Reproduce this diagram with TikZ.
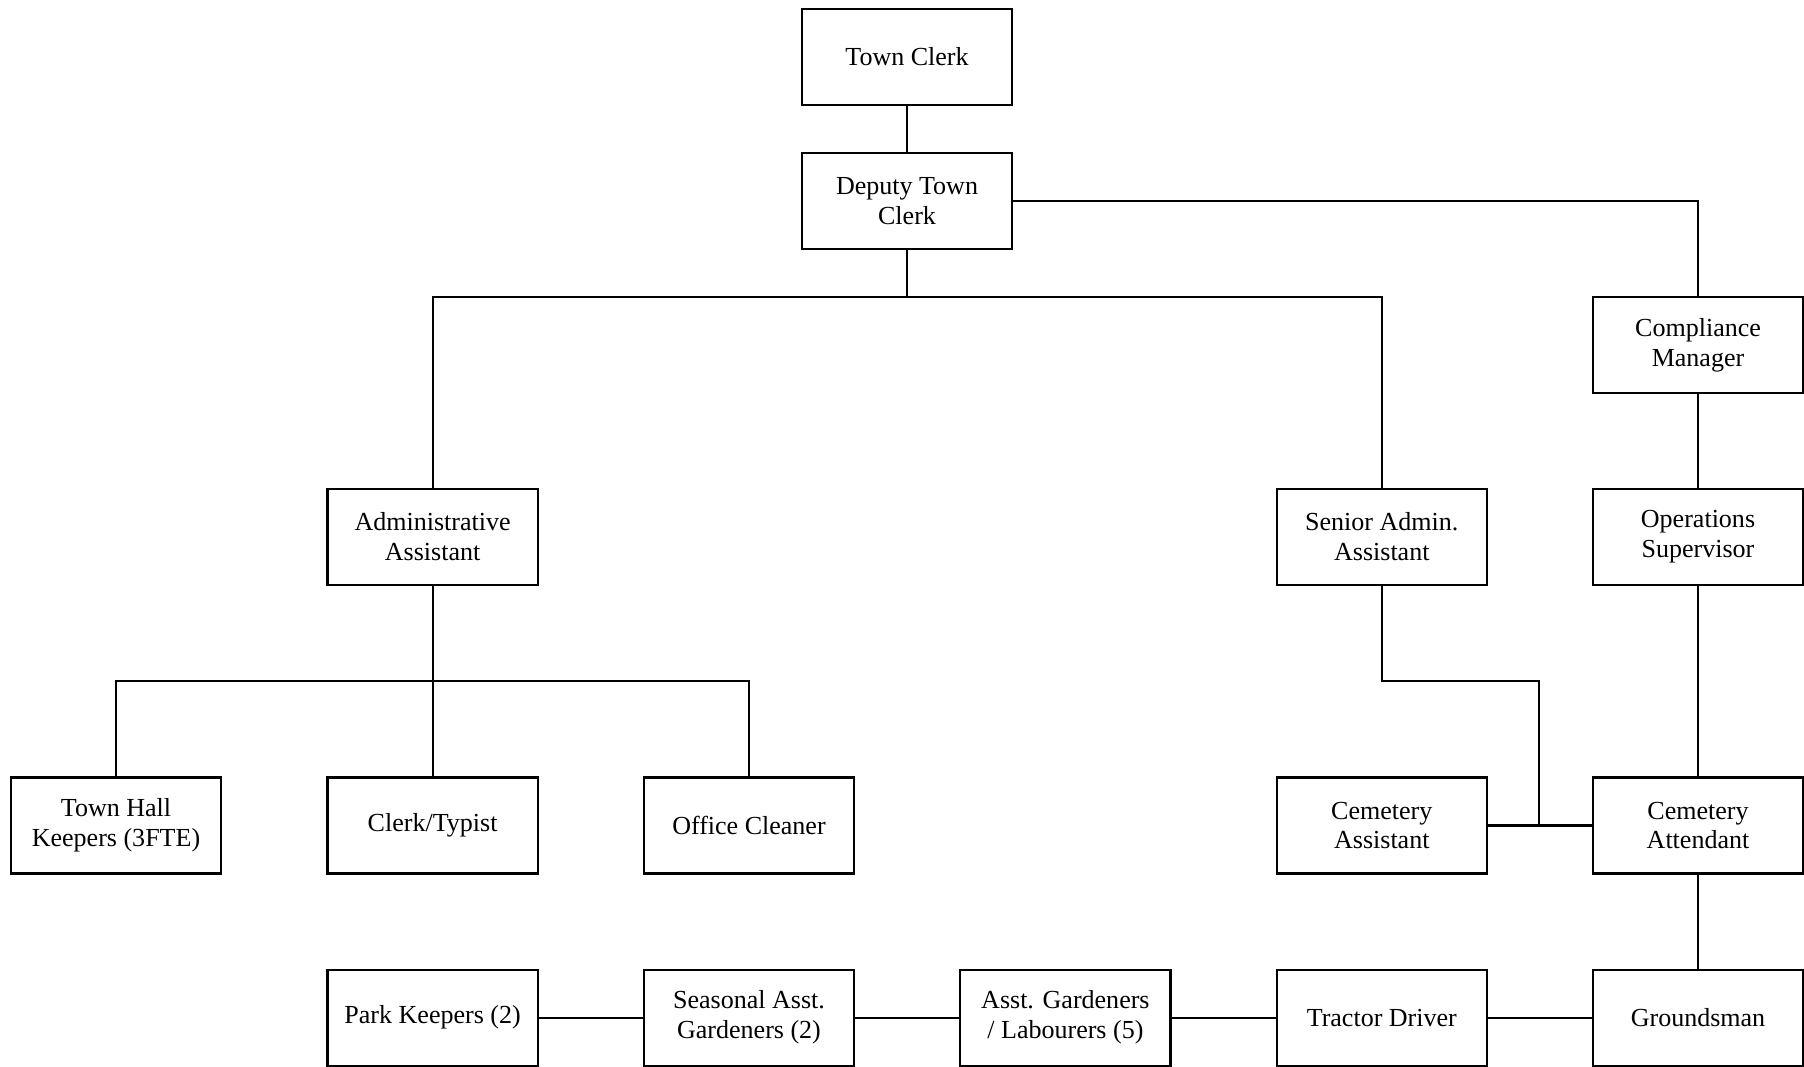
\documentclass[tikz,border=0pt]{standalone}
\usepackage{fontspec}
\setmainfont{Liberation Serif}
\begin{document}
\begin{tikzpicture}[x=0.01cm,y=-0.01cm,
    post/.style={draw, line width=0.6pt, minimum width=2.1cm, minimum height=0.96cm,
      align=center, inner sep=1pt, font=\fontsize{7.4}{8.5}\selectfont},
    link/.style={line width=0.6pt}]
  \useasboundingbox (0,0) rectangle (1804,1066);
  % top
  \node[post] (tc) at (907,57) {Town Clerk};
  \node[post] (dtc) at (907,201) {Deputy Town\\Clerk};
  \node[post] (cm) at (1698,345) {Compliance\\Manager};
  % middle row
  \node[post] (aa) at (432.6,537) {Administrative\\Assistant};
  \node[post] (saa) at (1381.8,537) {Senior Admin.\\Assistant};
  \node[post] (os) at (1698,537) {Operations\\Supervisor};
  % office staff and cemetery
  \node[post] (thk) at (116,825.5) {Town Hall\\Keepers (3FTE)};
  \node[post] (ct) at (432.6,825.5) {Clerk/Typist};
  \node[post] (oc) at (749,825.5) {Office Cleaner};
  \node[post] (ca) at (1381.8,825.5) {Cemetery\\Assistant};
  \node[post] (catt) at (1698,825.5) {Cemetery\\Attendant};
  % grounds
  \node[post] (pk) at (432.6,1017.6) {Park Keepers (2)};
  \node[post] (sag) at (749,1017.6) {Seasonal Asst.\\Gardeners (2)};
  \node[post] (agl) at (1065.4,1017.6) {Asst. Gardeners\\/ Labourers (5)};
  \node[post] (td) at (1381.8,1017.6) {Tractor Driver};
  \node[post] (gm) at (1698,1017.6) {Groundsman};
  % connectors
  \coordinate (bus1) at (907,297);
  \coordinate (bus2) at (432.6,681);
  \coordinate (elb) at (1539.4,681);
  \draw[link] (tc) -- (dtc);
  \draw[link] (dtc.east) -| (cm.north);
  \draw[link] (dtc) -- (bus1);
  \draw[link] (aa.north) |- (bus1) -| (saa.north);
  \draw[link] (cm) -- (os);
  \draw[link] (aa) -- (ct);
  \draw[link] (thk.north) |- (bus2) -| (oc.north);
  \draw[link] (saa.south) |- (elb) -- (elb |- ca.east);
  \draw[link] (ca) -- (catt);
  \draw[link] (os) -- (catt);
  \draw[link] (catt) -- (gm);
  \draw[link] (pk) -- (sag);
  \draw[link] (sag) -- (agl);
  \draw[link] (agl) -- (td);
  \draw[link] (td) -- (gm);
\end{tikzpicture}
\end{document}
